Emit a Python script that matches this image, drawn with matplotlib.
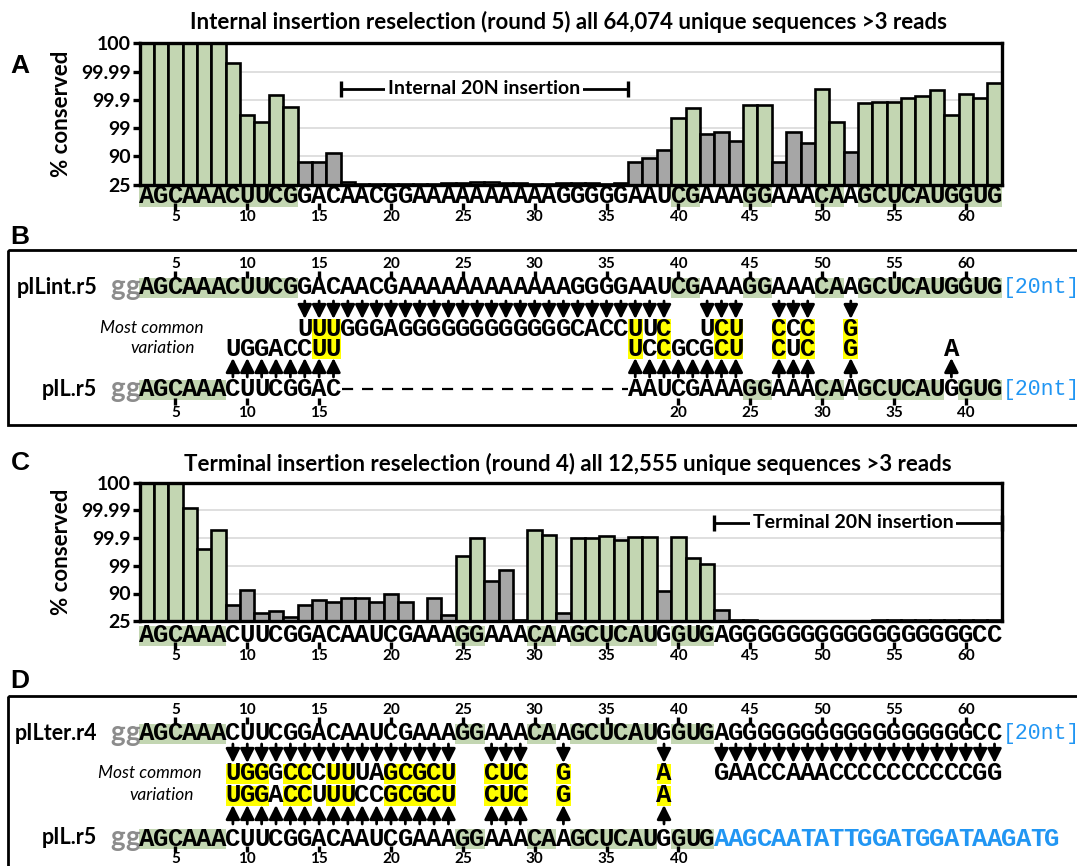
import matplotlib
matplotlib.use("Agg")
import matplotlib.pyplot as plt
from matplotlib.patches import Rectangle

W, H = 1077, 866
SANS = ["Lato", "DejaVu Sans"]
MONO = ["Liberation Mono", "DejaVu Sans Mono"]
GREEN = "#C3D6B2"
GRAY = "#A6A6A6"
YELLOW = "#FFFF00"
BLUE = "#2196F3"
SEQ_SIZE = 18.5

# ---------------- data ----------------
positions = list(range(3, 63))
y_levels = [0, 1, 2, 3, 4, 5]
y_labels = ["25", "90", "99", "99.9", "99.99", "100"]
num_ticks = [5, 10, 15, 20, 25, 30, 35, 40, 45, 50, 55, 60]

# panel A: internal insertion, round 5
title_a = "Internal insertion reselection (round 5) all 64,074 unique sequences >3 reads"
seq_a = "AGCAAACUUCG" "GACAACGG" "AAAAAAAAAA" "GGGGG" "AAUCGAAAGGAAACAAGCUCAUGGUG"
cons_a = [5, 5, 5, 5, 5, 5, 4.31, 2.45, 2.21, 3.16, 2.74, 0.79, 0.79, 1.12,
          0.08, 0.03, 0.03, 0.04, 0.03, 0.03, 0.04, 0.05, 0.05, 0.08,
          0.08, 0.06, 0.05, 0.04, 0.03, 0.06, 0.05, 0.05, 0.04, 0.05,
          0.79, 0.95, 1.21, 2.36, 2.70, 1.81, 1.87, 1.54, 2.83, 2.83,
          0.80, 1.86, 1.48, 3.37, 2.23, 1.15, 2.90, 2.92, 2.92, 3.07,
          3.13, 3.36, 2.47, 3.19, 3.06, 3.61]
green_a = [3, 4, 5, 6, 7, 8, 9, 10, 11, 12, 13, 40, 41, 45, 46, 50, 51,
           53, 54, 55, 56, 57, 58, 59, 60, 61, 62]

# panel B: pILint.r5 vs pIL.r5
seq_int = "AGCAAACUUCG" "GACAACG" "AAAAAAAAAAAA" "GGGG" "AAUCGAAAGGAAACAAGCUCAUGGUG"
seq_il = "AGCAAACUUCGGACAAUCGAAAGGAAACAAGCUCAUGGUG"
green_il = [3, 4, 5, 6, 7, 8, 25, 26, 30, 31, 33, 34, 35, 36, 37, 38, 40, 41, 42]
il_ticks = [5, 10, 15, 20, 25, 30, 35, 40]
var_b_top = [(14, "UUUGGGAGGGGGGGGGGGGCACCUUC"), (42, "UCU"), (47, "CCC"), (52, "G")]
var_b_bot = [(9, "UGGACCUU"), (37, "UCCGCGCU"), (47, "CUC"), (52, "G"), (59, "A")]
yellow_b = [15, 16, 37, 39, 43, 44, 47, 49, 52]
arrows_b_down = list(range(14, 40)) + [42, 43, 44, 47, 48, 49, 52]
arrows_b_up = list(range(9, 17)) + list(range(37, 45)) + [47, 48, 49, 52, 59]

# panel C: terminal insertion, round 4
title_c = "Terminal insertion reselection (round 4) all 12,555 unique sequences >3 reads"
seq_c = "AGCAAACUUCGGACAAUCGAAAGGAAACAAGCUCAUGGUG" "A" "GGGGGGGGGGGGGGGGG" "CC"
cons_c = [5, 5, 5, 4.07, 2.60, 3.29,
          0.58, 1.14, 0.29, 0.37, 0.14, 0.60, 0.76, 0.70, 0.85, 0.82,
          0.68, 0.97, 0.69, 0.0, 0.83, 0.24, 2.37, 3.02, 1.44, 1.84,
          0.06, 3.29, 3.10, 0.29, 3.00, 3.00, 3.09, 2.92, 3.03, 3.04,
          1.09, 3.03, 2.29, 2.08, 0.39, 0.05, 0.04, 0.02, 0.02, 0.02,
          0.02, 0.02, 0.02, 0.02, 0.02, 0.03, 0.03, 0.04, 0.03, 0.03,
          0.04, 0.06, 0.05, 0.04]
green_c = [3, 4, 5, 6, 7, 8, 25, 26, 30, 31, 33, 34, 35, 36, 37, 38, 40, 41, 42]

# panel D: pILter.r4 vs pIL.r5
var_d_top = [(9, "UGGGCCCUUUAGCGCU"), (27, "CUC"), (32, "G"), (39, "A"),
             (43, "GAACCAAACCCCCCCCCCGG")]
var_d_bot = [(9, "UGGACCUUUCCGCGCU"), (27, "CUC"), (32, "G"), (39, "A")]
yellow_d = [9, 10, 11, 13, 14, 16, 17, 20, 21, 22, 23, 24, 27, 28, 29, 32, 39]
arrows_d_down = list(range(9, 25)) + [27, 28, 29, 32, 39] + list(range(43, 63))
arrows_d_up = list(range(9, 25)) + [27, 28, 29, 32, 39]
tail_d = "AAGCAATATTGGATGGATAAGATG"

# ---------------- layout helpers ----------------
X0, DX = 139.5, 14.37          # pixel of nt 2.5, pixels per nt


def nt(xpx):
    return 2.5 + (xpx - X0) / DX


fig = plt.figure(figsize=(W / 100, H / 100), dpi=100)
ov = fig.add_axes([0, 0, 1, 1])
ov.set_xlim(nt(0), nt(W))
ov.set_ylim(H, 0)
ov.axis("off")


def px_axes(top, bottom):
    left, right = X0, X0 + 60 * DX
    return fig.add_axes([left / W, 1 - bottom / H, (right - left) / W, (bottom - top) / H])


def seq_row(seq, start, y, hl=(), hl_color=GREEN, xmap=lambda p: p,
            color="k", weight="bold"):
    ps = [start + i for i in range(len(seq))]
    hx = [xmap(p) for p in ps if p in hl]
    if hx:
        ov.bar(hx, 20, bottom=y - 9, width=1.02, color=hl_color, lw=0, zorder=1)
    for p, ch in zip(ps, seq):
        ov.text(xmap(p), y + 0.5, ch, ha="center", va="center", family=MONO,
                weight=weight, size=SEQ_SIZE, color=color, zorder=3)


def num_row(nums, y_num, t0, t1, xmap=lambda p: p):
    xs = [xmap(n) for n in nums]
    ov.vlines(xs, t0, t1, color="k", lw=2.4, zorder=4)
    for x, n in zip(xs, nums):
        ov.text(x, y_num, str(n), ha="center", va="center", family=SANS,
                weight="bold", size=11)


def arrow_row(ps, y0, y1):
    for p in ps:
        ov.annotate("", xy=(p, y1), xytext=(p, y0),
                    arrowprops=dict(arrowstyle="-|>,head_length=0.6,head_width=0.3",
                                    lw=2, color="k", shrinkA=0, shrinkB=0,
                                    mutation_scale=14))


def label(xpx, ypx, s, **kw):
    ov.text(nt(xpx), ypx, s, **kw)


def gg(y):
    for p in [1, 2]:
        ov.text(p, y, "g", ha="center", va="center", family=SANS, weight="bold",
                size=20, color="#8C8C8C")


def tag(y):
    ov.text(62.55, y, "[20nt]", ha="left", va="center", family=MONO, size=15.5,
            color=BLUE)


def bar_panel(top, bottom, cons, green):
    ax = px_axes(top, bottom)
    cols = [GREEN if p in green else GRAY for p in positions]
    ax.bar(positions, cons, width=1, color=cols, edgecolor="k", lw=1.9, zorder=3)
    ax.set_xlim(2.5, 62.5)
    ax.set_ylim(0, 5)
    ax.set_xticks([])
    ax.set_yticks(y_levels)
    ax.set_yticklabels(y_labels, family=SANS, weight="bold", size=14)
    ax.grid(axis="y", color="#D9D9D9", lw=1.2, zorder=0)
    ax.set_facecolor("none")
    for s in ax.spines.values():
        s.set_linewidth(2.4)
        s.set_zorder(5)
    ax.tick_params(axis="y", length=5, width=2.4, pad=1)
    ax.set_ylabel("% conserved", family=SANS, weight="bold", size=16)
    ax.yaxis.set_label_coords((72 - X0) / (60 * DX), 0.5)
    return ax


def bracket(a, b, y, text, tx):
    ov.plot([a, b], [y, y], color="k", lw=2, zorder=2)
    ov.vlines([a, b], y - 8, y + 8, color="k", lw=2.4, zorder=2)
    label(tx, y, text, ha="center", va="center", family=SANS, weight="bold",
          size=14, zorder=3, bbox=dict(fc="white", ec="none", pad=2))


panel_kw = dict(ha="center", va="center", family=["Liberation Sans", "DejaVu Sans"],
                weight="bold", size=19)
title_kw = dict(ha="center", va="center", family=SANS, weight="bold", size=16)
name_kw = dict(ha="right", va="center", family=SANS, weight="bold", size=15.5)
ital_kw = dict(ha="center", va="center", family=SANS, style="italic", size=12.5)

# ---------------- panel A ----------------
label(20, 66, "A", **panel_kw)
label(569, 22, title_a, **title_kw)
bar_panel(43.3, 184.7, cons_a, green_a)
bracket(16.5, 36.5, 89, "Internal 20N insertion", 484)
seq_row(seq_a, 3, 195.5, hl=green_a)
num_row(num_ticks, 217, 203, 210)

# ---------------- panel B ----------------
label(20, 237, "B", **panel_kw)
ov.add_patch(Rectangle((nt(8), 250), nt(1090) - nt(8), 175, fill=False,
                       ec="k", lw=2, zorder=5))


def il_x(p):
    return p if p <= 16 else p + 20


num_row(num_ticks, 264, 271, 278)
label(97, 287, "pILint.r5", **name_kw)
gg(287)
seq_row(seq_int, 3, 287, hl=green_a)
tag(287)
arrow_row(arrows_b_down, 301, 319)
for start, s in var_b_top:
    seq_row(s, start, 328, hl=yellow_b, hl_color=YELLOW)
for start, s in var_b_bot:
    seq_row(s, start, 348, hl=yellow_b, hl_color=YELLOW)
label(152, 328, "Most common", **ital_kw)
label(163, 348, "variation", **ital_kw)
arrow_row(arrows_b_up, 377, 358)
label(97, 389, "pIL.r5", **name_kw)
gg(389)
seq_row(seq_il, 3, 389, hl=green_il, xmap=il_x)
ov.plot([16.6, 36.5], [389, 389], color="k", lw=1.6, dashes=(5, 4))
tag(389)
num_row(il_ticks, 413, 398, 405, xmap=il_x)

# ---------------- panel C ----------------
label(20, 463, "C", **panel_kw)
label(568, 464, title_c, **title_kw)
bar_panel(482.7, 621.2, cons_c, green_c)
bracket(42.5, 62.5, 523, "Terminal 20N insertion", 853)
seq_row(seq_c, 3, 634.5, hl=green_c)
num_row(num_ticks, 656, 642, 649)

# ---------------- panel D ----------------
label(20, 681, "D", **panel_kw)
ov.add_patch(Rectangle((nt(8), 696), nt(1090) - nt(8), 200, fill=False,
                       ec="k", lw=2, zorder=5))
num_row(num_ticks, 710, 717, 724)
label(97, 733, "pILter.r4", **name_kw)
gg(733)
seq_row(seq_c, 3, 733, hl=green_c)
tag(733)
arrow_row(arrows_d_down, 744, 763)
for start, s in var_d_top:
    seq_row(s, start, 773, hl=yellow_d, hl_color=YELLOW)
for start, s in var_d_bot:
    seq_row(s, start, 795, hl=yellow_d, hl_color=YELLOW)
label(150, 773, "Most common", **ital_kw)
label(162, 795, "variation", **ital_kw)
arrow_row(arrows_d_up, 824, 805)
label(97, 838, "pIL.r5", **name_kw)
gg(838)
seq_row(seq_il, 3, 838, hl=green_c)
seq_row(tail_d, 43, 838, color=BLUE)
num_row(il_ticks, 859, 846, 852)

fig.savefig("out.png", dpi=100)
